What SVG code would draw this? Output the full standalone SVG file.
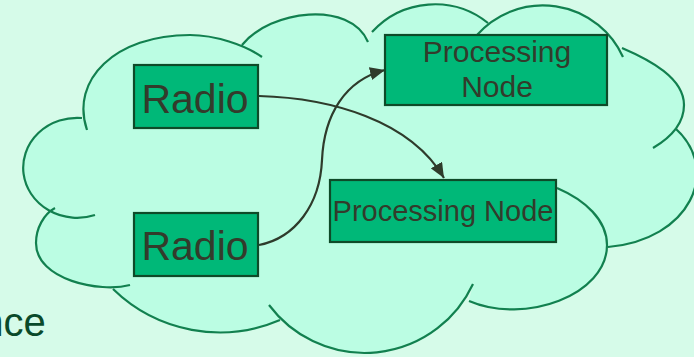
<svg xmlns="http://www.w3.org/2000/svg" width="694" height="357" viewBox="0 0 694 357">
<defs>
<style>
.box{fill:#00b878;stroke:#0e4a28;stroke-width:2.2}
.lbl{font-family:"Liberation Sans",Arial,sans-serif;fill:#333b2b;text-anchor:middle}
.cloudfill{fill:#bbfde3;stroke:none}
.cloudline{fill:none;stroke:#12804f;stroke-width:2.2;stroke-linecap:butt}
.conn{fill:none;stroke:#2e3b2b;stroke-width:2.2}
</style>
<marker id="arr" markerUnits="userSpaceOnUse" markerWidth="16" markerHeight="13" refX="15" refY="6.5" orient="auto" viewBox="0 0 16 13">
<path d="M0,0 L15,6.5 L0,13 z" fill="#2e3b2b"/>
</marker>
</defs>
<rect x="0" y="0" width="694" height="357" fill="#d6fbe9"/>
<g id="cloud">
<path class="cloudfill" d="M95,215 A54,50 0 1 1 82,118 L87,130 C70,80 115,35 190,35 C215,35 245,45 262,57 L242,45 C270,10 350,0 368,42 L372,32 A85,85 0 0 1 488,23 L477,35 A88,88 0 0 1 623,57 L622,48 C650,60 684,78 684,105 C684,125 670,138 653,148 L675,128 C722,170 690,240 608,247 L557,188 C585,200 607,220 607,245 C607,295 525,325 469,301 L473,284 A119.5,119.5 0 0 1 269,305 L280,320 A153,153 0 0 1 113,289 L130,285 C100,293 36,280 36,243 C36,228 44,214 55,208 Z"/>
<path class="cloudline" d="M95,215 A54,50 0 1 1 82,118 M87,130 C70,80 115,35 190,35 C215,35 245,45 262,57 M242,45 C270,10 350,0 368,42 M372,32 A85,85 0 0 1 488,23 M477,35 A88,88 0 0 1 623,57 M622,48 C650,60 684,78 684,105 C684,125 670,138 653,148 M675,128 C722,170 690,240 608,247 M557,188 C585,200 607,220 607,245 C607,295 525,325 469,301 M473,284 A119.5,119.5 0 0 1 269,305 M280,320 A153,153 0 0 1 113,289 M130,285 C100,293 36,280 36,243 C36,228 44,214 55,208"/>
</g>
<text x="-18.8" y="335.7" font-family="Liberation Sans, Arial, sans-serif" font-size="40" fill="#0a4a2a">nce</text>
<g id="connectors">
<path class="conn" d="M259,96 C330,98 410,120 444,178" marker-end="url(#arr)"/>
<path class="conn" d="M259,245 C295,238 320,205 322,160 C324,115 345,80 385,70" marker-end="url(#arr)"/>
</g>
<g id="radio1">
<rect class="box" x="134" y="65" width="124" height="63"/>
<text class="lbl" x="195" y="113" font-size="41">Radio</text>
</g>
<g id="radio2">
<rect class="box" x="134" y="213" width="124" height="63"/>
<text class="lbl" x="195" y="260" font-size="41">Radio</text>
</g>
<g id="proc1">
<rect class="box" x="385" y="35" width="222" height="70"/>
<text class="lbl" x="497" y="62" font-size="30">Processing</text>
<text class="lbl" x="497" y="96.5" font-size="30">Node</text>
</g>
<g id="proc2">
<rect class="box" x="330" y="180" width="226" height="62"/>
<text class="lbl" x="443" y="220.7" font-size="29">Processing Node</text>
</g>
</svg>
